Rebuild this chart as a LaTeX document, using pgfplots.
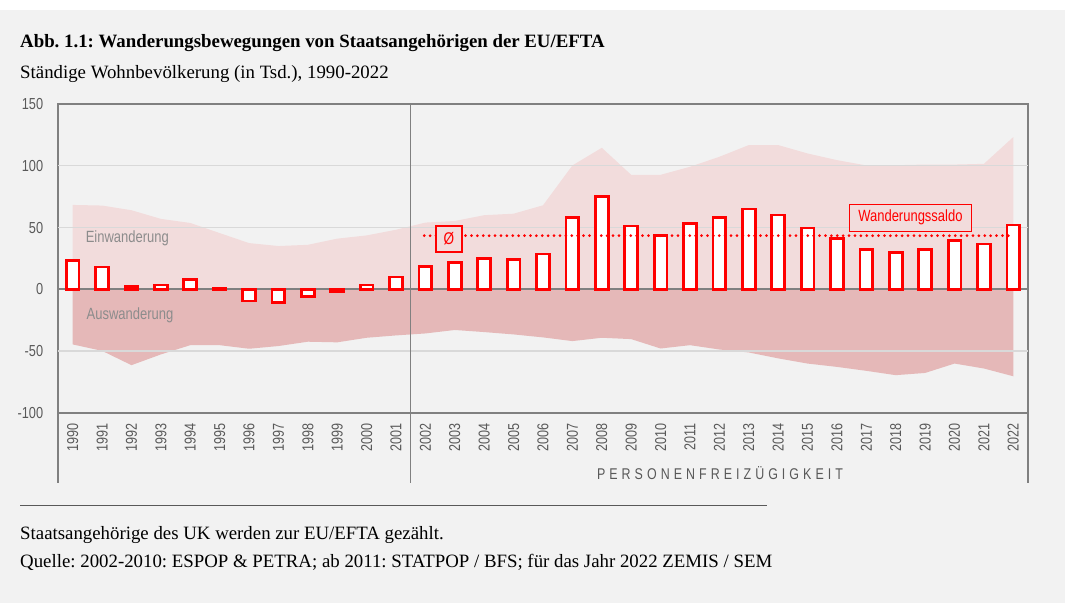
\documentclass[border=0pt]{standalone}
\usepackage{pgfplots}
\pgfplotsset{compat=1.18}
\usepackage{pgfplotstable}
\usepackage{fontspec}
\setmainfont{Liberation Serif}
\newfontfamily\narrow[FakeStretch=0.8]{Liberation Sans}
\newfontfamily\narrowls[FakeStretch=0.8,LetterSpace=26]{Liberation Sans}
\definecolor{bgc}{HTML}{F2F2F2}
\definecolor{framec}{HTML}{808080}
\definecolor{gridc}{HTML}{D9D9D9}
\definecolor{tickc}{HTML}{595959}
\definecolor{einc}{HTML}{F2DCDC}
\definecolor{ausc}{HTML}{E5B8B8}
\definecolor{lblc}{HTML}{8C8C8C}
\definecolor{barred}{HTML}{FF0000}

\pgfplotstableread{
x year ein aus saldo
0 1990 68.3 -44.7 23
1 1991 67.8 -49.9 18
2 1992 64.0 -61.5 2.5
3 1993 57.0 -52.8 3.5
4 1994 53.7 -45.3 8
5 1995 45.5 -45.3 0.5
6 1996 37.4 -48.2 -9.5
7 1997 35.0 -46.0 -10.6
8 1998 36.0 -42.5 -6
9 1999 41.0 -43.0 -1.5
10 2000 43.6 -39.3 3.5
11 2001 48.2 -37.4 10
12 2002 54.0 -35.8 18.7
13 2003 55.3 -33.0 21.4
14 2004 60.0 -34.7 24.7
15 2005 61.2 -36.6 23.8
16 2006 68.0 -39.0 28.5
17 2007 100.3 -42.0 58
18 2008 114.6 -39.3 75
19 2009 92.7 -40.4 51.2
20 2010 92.7 -48.0 43.6
21 2011 99.2 -45.3 53.4
22 2012 107.3 -48.8 58
23 2013 116.8 -51.2 65
24 2014 116.8 -56.0 60.2
25 2015 110.0 -60.2 49.6
26 2016 104.6 -62.9 41
27 2017 100.3 -66.1 32
28 2018 100.5 -69.6 29.5
29 2019 101.0 -67.8 32.5
30 2020 101.0 -60.2 39.6
31 2021 101.6 -64.2 36.6
32 2022 123.3 -70.5 52
}\data

\begin{document}
\frenchspacing
\begin{tikzpicture}[x=1bp,y=1bp]
\useasboundingbox (0,0) rectangle (1065,603);
\fill[bgc] (0,0) rectangle (1065,593);
\fill[white] (0,593) rectangle (1065,603);
\node[anchor=base west, inner sep=0pt, font=\bfseries\fontsize{18.9}{22}\selectfont] at (20,555.3) {Abb. 1.1: Wanderungsbewegungen von Staatsangehörigen der EU/EFTA};
\node[anchor=base west, inner sep=0pt, font=\fontsize{18.9}{22}\selectfont] at (20,524.7) {Ständige Wohnbevölkerung (in Tsd.), 1990-2022};

\begin{axis}[
  at={(58bp,190.3bp)}, anchor=south west,
  scale only axis, width=970bp, height=308.6bp,
  xmin=-0.5, xmax=32.5, ymin=-100, ymax=150,
  axis line style={draw=framec, line width=1.3bp},
  major tick length=0pt,
  xtick={0,...,32},
  xticklabels from table={\data}{year},
  ytick={-100,-50,0,50,100,150},
  yticklabels={-100,-50,0,50,100,150},
  yticklabel style={font=\narrow\fontsize{16}{18}\selectfont, text=tickc, anchor=east, inner sep=0pt},
  yticklabel shift=14.7bp,
  xticklabel style={font=\narrow\fontsize{15.8}{18}\selectfont, text=tickc, rotate=90, anchor=east, inner sep=0pt, xshift=0bp},
  xticklabel shift=11bp,
  clip=false,
]
\addplot[fill=einc, draw=none] table[x=x,y=ein]{\data} \closedcycle;
\addplot[fill=ausc, draw=none] table[x=x,y=aus]{\data} \closedcycle;
\draw[gridc, line width=1.3bp] (axis cs:-0.5,50) -- (axis cs:32.5,50);
\draw[gridc, line width=1.3bp] (axis cs:-0.5,100) -- (axis cs:32.5,100);
\draw[gridc, line width=1.3bp] (axis cs:-0.5,-50) -- (axis cs:32.5,-50);
\draw[framec, line width=1.3bp] (axis cs:11.5,150) -- (axis cs:11.5,-100);
\draw[framec, line width=1.8bp] (axis cs:-0.5,0) -- (axis cs:32.5,0);
\draw[framec, line width=2.2bp] (axis cs:-0.5,-100) -- (axis cs:32.5,-100);
\addplot[ybar, bar width=12.8bp, bar shift=0pt, draw=barred, fill=white, line width=2.8bp] table[x=x,y=saldo]{\data};
\addplot[barred, line width=3bp, line cap=round, dash pattern=on 0bp off 5.9bp] coordinates {(11.96,43.4) (32,43.4)};
\node[anchor=west, inner sep=0pt, font=\narrow\fontsize{16.3}{18}\selectfont, text=lblc] at (axis cs:0.44,41) {Einwanderung};
\node[anchor=west, inner sep=0pt, font=\narrow\fontsize{16.3}{18}\selectfont, text=lblc] at (axis cs:0.47,-21) {Auswanderung};
\node[draw=barred, fill=einc, line width=1.3bp, text=barred, minimum width=26bp, minimum height=26bp, inner sep=0pt, font=\narrow\fontsize{17}{18}\selectfont] at (axis cs:12.8,40.6) {Ø};
\node[draw=barred, fill=einc, line width=1.2bp, text=barred, minimum width=122bp, minimum height=27bp, inner sep=0pt, font=\narrow\fontsize{16.3}{18}\selectfont] at (axis cs:28.5,58) {Wanderungssaldo};
\end{axis}

\draw[framec, line width=1.3bp] (58,190.3) -- (58,120);
\draw[framec, line width=1.3bp] (410.7,190.3) -- (410.7,120);
\draw[framec, line width=1.3bp] (1028,190.3) -- (1028,120);
\node[anchor=base, inner sep=0pt, font=\narrowls\fontsize{15.6}{18}\selectfont, text=tickc] at (720,123.7) {PERSONENFREIZÜGIGKEIT};

\draw[line width=0.8bp, tickc] (20,98) -- (767,98);
\node[anchor=base west, inner sep=0pt, font=\fontsize{18.9}{22}\selectfont] at (20,63.7) {Staatsangehörige des UK werden zur EU/EFTA gezählt.};
\node[anchor=base west, inner sep=0pt, font=\fontsize{18.9}{22}\selectfont] at (20,35.3) {Quelle: 2002-2010: ESPOP \& PETRA; ab 2011: STATPOP / BFS; für das Jahr 2022 ZEMIS / SEM};
\end{tikzpicture}
\end{document}
